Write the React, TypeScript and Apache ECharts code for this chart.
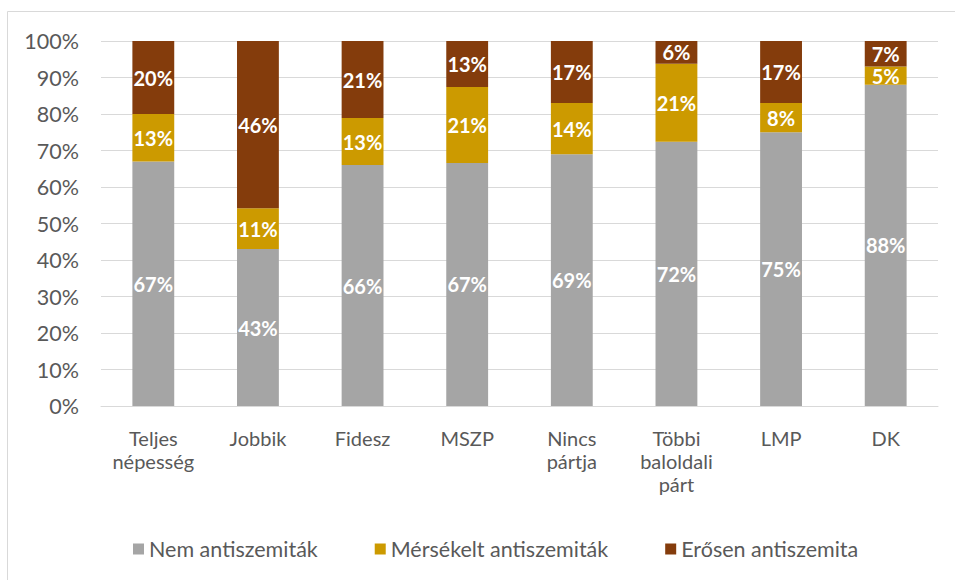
import React, { useEffect, useRef } from "react";
import * as echarts from "echarts";

const categories = [
  "Teljes\nnépesség",
  "Jobbik",
  "Fidesz",
  "MSZP",
  "Nincs\npártja",
  "Többi\nbaloldali\npárt",
  "LMP",
  "DK",
];
const seriesNames = ["Nem antiszemiták", "Mérsékelt antiszemiták", "Erősen antiszemita"];
const nemValues = [67.0, 43.0, 66.0, 66.6, 69.0, 72.4, 75.0, 88.0];
const mersekeltValues = [13.0, 11.2, 12.9, 20.8, 14.0, 21.4, 8.0, 5.0];
const erosenValues = [20.0, 45.8, 21.1, 12.6, 17.0, 6.2, 17.0, 7.0];
const yTicks = { min: 0, max: 100, interval: 10 };

const colors = ["#A5A5A5", "#CC9A00", "#843C0C"];
const FONT = "Lato";

export default function App() {
  const ref = useRef<HTMLDivElement>(null);
  useEffect(() => {
    if (!ref.current) return;
    const chart = echarts.init(ref.current, undefined, { renderer: "svg" });
    const data = [nemValues, mersekeltValues, erosenValues];
    chart.setOption({
      animation: false,
      textStyle: { fontFamily: FONT },
      graphic: [
        {
          type: "rect",
          shape: { x: 7.5, y: 11.5, width: 1000, height: 1000 },
          style: { fill: "none", stroke: "#D9D9D9", lineWidth: 1 },
          silent: true,
        },
      ],
      grid: { left: 101, right: 17, top: 41, bottom: 174, containLabel: false },
      legend: {
        top: 533,
        left: 128,
        itemWidth: 11,
        itemHeight: 11,
        itemGap: 57,
        icon: "rect",
        textStyle: { fontFamily: FONT, fontSize: 21.5, color: "#595959" },
        data: seriesNames,
      },
      xAxis: {
        type: "category",
        data: categories,
        axisLine: { lineStyle: { color: "#D9D9D9", width: 1 } },
        axisTick: { show: false },
        axisLabel: {
          color: "#595959",
          fontSize: 20,
          fontFamily: FONT,
          lineHeight: 23,
          margin: 20,
          interval: 0,
        },
      },
      yAxis: {
        type: "value",
        min: yTicks.min,
        max: yTicks.max,
        interval: yTicks.interval,
        axisLine: { show: false },
        axisTick: { show: false },
        splitLine: { lineStyle: { color: "#D9D9D9", width: 1 } },
        axisLabel: {
          formatter: "{value}%",
          color: "#595959",
          fontSize: 21.5,
          fontFamily: FONT,
          margin: 22,
        },
      },
      series: seriesNames.map((name, i) => ({
        name,
        type: "bar",
        stack: "total",
        barWidth: "40%",
        data: data[i],
        itemStyle: { color: colors[i] },
        label: {
          show: true,
          position: "inside",
          color: "#FFFFFF",
          fontWeight: "bold",
          fontFamily: FONT,
          fontSize: 20,
          formatter: (p: any) => Math.round(p.value) + "%",
        },
      })),
    });
    return () => chart.dispose();
  }, []);
  return (
    <div
      ref={ref}
      style={{ position: "absolute", left: 0, top: 0, width: 955, height: 580, background: "#fff" }}
    />
  );
}
